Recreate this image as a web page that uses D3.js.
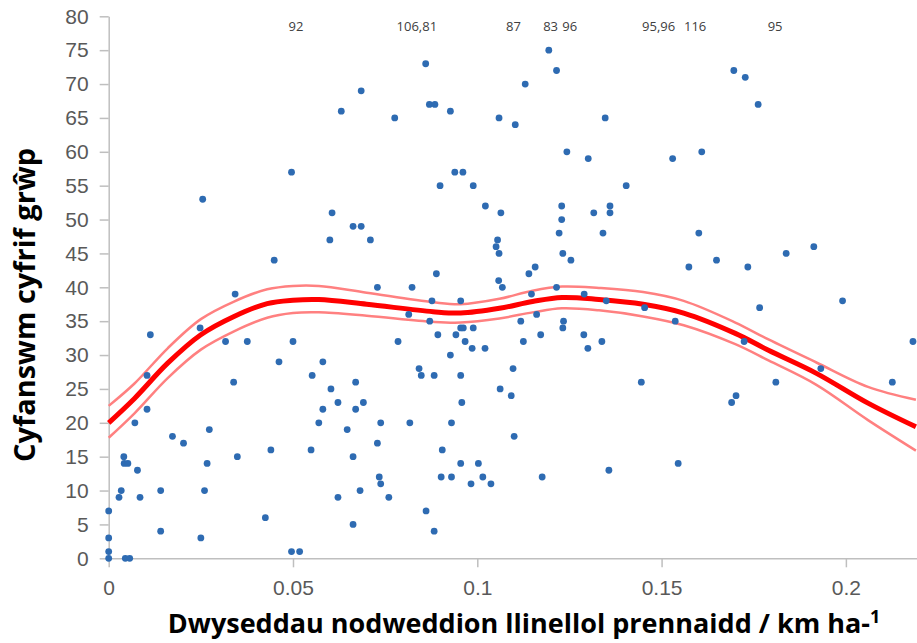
<!DOCTYPE html>
<html>
<head>
<meta charset="utf-8">
<script src="https://cdn.jsdelivr.net/npm/d3@7/dist/d3.min.js"></script>
<style>
  body { margin: 0; background: #fff; }
  svg { display: block; font-family: "Open Sans", sans-serif; }
</style>
</head>
<body>
<svg id="chart" width="917" height="643"></svg>
<script>
// scatter: linear feature density (km/ha) vs total group count
const densityX = [
  0.000, 0.000, 0.000, 0.000, 0.0045, 0.0057, 0.0041, 0.0042, 0.0052, 0.0078,
  0.0034, 0.0028, 0.0085, 0.0071, 0.0104, 0.0104, 0.0113, 0.0141, 0.0141, 0.0173,
  0.0203, 0.0248, 0.0255, 0.025, 0.026, 0.0267, 0.0273, 0.0317, 0.0339, 0.0343,
  0.0349, 0.0376, 0.0425, 0.044, 0.0449, 0.0462, 0.0496, 0.050, 0.0496, 0.0518,
  0.0549, 0.0552, 0.057, 0.0581, 0.0581, 0.060, 0.0603, 0.0606, 0.0622, 0.0622,
  0.0631, 0.0647, 0.0663, 0.0663, 0.0663, 0.067, 0.067, 0.0682, 0.0685, 0.0685,
  0.0691, 0.071, 0.0729, 0.0729, 0.0734, 0.0738, 0.0738, 0.076, 0.0776, 0.0785,
  0.0814, 0.0817, 0.0823, 0.0842, 0.0848, 0.086, 0.0861, 0.087, 0.0871, 0.0877,
  0.0883, 0.0883, 0.0885, 0.0889, 0.0893, 0.0899, 0.0902, 0.0905, 0.0927, 0.0927,
  0.093, 0.093, 0.0939, 0.0942, 0.0955, 0.0955, 0.0955, 0.0955, 0.0958, 0.0961,
  0.0962, 0.0967, 0.0983, 0.0986, 0.0989, 0.0989, 0.1003, 0.1015, 0.1021, 0.1022,
  0.1037, 0.1051, 0.1055, 0.1058, 0.1059, 0.1059, 0.1062, 0.1064, 0.1068, 0.1092,
  0.1097, 0.110, 0.1103, 0.1118, 0.1125, 0.113, 0.114, 0.1147, 0.1157, 0.1161,
  0.1172, 0.1176, 0.1194, 0.1215, 0.1215, 0.1222, 0.1229, 0.1229, 0.1232, 0.1232,
  0.1234, 0.1243, 0.1254, 0.1289, 0.129, 0.130, 0.1301, 0.1316, 0.1338, 0.1341,
  0.1347, 0.135, 0.1357, 0.136, 0.136, 0.1404, 0.1445, 0.1454, 0.153, 0.1537,
  0.1545, 0.1574, 0.1601, 0.1609, 0.1649, 0.169, 0.1696, 0.1702, 0.1724, 0.1727,
  0.1734, 0.1762, 0.1766, 0.181, 0.1838, 0.1913, 0.1932, 0.1991, 0.2126, 0.2182
];
const groupTotal = [
  7, 3, 1, 0, 0, 0, 15, 14, 14, 13,
  10, 9, 9, 20, 22, 27, 33, 10, 4, 18,
  17, 34, 53, 3, 10, 14, 19, 32, 26, 39,
  15, 32, 6, 16, 44, 29, 57, 32, 1, 1,
  16, 27, 20, 22, 29, 47, 25, 51, 23, 9,
  66, 19, 49, 15, 5, 26, 22, 10, 69, 49,
  23, 47, 40, 17, 12, 20, 11, 9, 65, 32,
  36, 20, 40, 28, 27, 73, 7, 67, 35, 38,
  27, 4, 67, 42, 33, 55, 12, 16, 66, 30,
  20, 12, 57, 33, 38, 34, 27, 14, 23, 57,
  34, 32, 11, 31, 55, 34, 14, 12, 31, 52,
  11, 46, 47, 41, 65, 45, 25, 51, 40, 24,
  28, 18, 64, 35, 32, 70, 42, 39, 43, 36,
  33, 12, 75, 72, 40, 48, 52, 50, 45, 34,
  35, 60, 44, 33, 39, 31, 59, 51, 32, 48,
  65, 38, 13, 52, 51, 55, 26, 37, 59, 35,
  14, 43, 48, 60, 44, 23, 72, 24, 32, 71,
  43, 67, 37, 26, 45, 46, 28, 38, 26, 32
];

// off-scale values written along the top of the plot
const outlierX = [0.0508, 0.0836, 0.1098, 0.1199, 0.1251, 0.1492, 0.1591, 0.1808];
const outlierLabels = ["92", "106,81", "87", "83", "96", "95,96", "116", "95"];

// smoothed fit with its confidence band
const fitX  = [0, 0.007, 0.016, 0.025, 0.034, 0.043, 0.05, 0.057, 0.07, 0.088, 0.0955,
               0.106, 0.115, 0.123, 0.133, 0.145, 0.156, 0.17, 0.179, 0.192, 0.206, 0.219];
const fitY  = [20.0, 23.6, 28.8, 33.0, 35.7, 37.6, 38.1, 38.2, 37.5, 36.4, 36.2,
               36.9, 37.9, 38.5, 38.2, 37.5, 36.2, 33.2, 30.7, 27.3, 22.9, 19.4];
const fitHi = [22.5, 25.8, 31.0, 35.3, 37.9, 39.7, 40.2, 40.2, 39.2, 37.8, 37.5,
               38.3, 39.5, 40.1, 39.9, 39.3, 38.0, 34.8, 32.3, 28.9, 25.3, 23.4];
const fitLo = [17.8, 21.4, 26.6, 30.8, 33.5, 35.5, 36.2, 36.3, 35.8, 34.9, 34.8,
               35.4, 36.3, 36.9, 36.6, 35.7, 34.4, 31.6, 29.2, 25.6, 20.4, 15.9];

const xTicks = [0, 0.05, 0.1, 0.15, 0.2];
const xTickLabels = ["0", "0.05", "0.1", "0.15", "0.2"];
const yTicks = d3.range(0, 81, 5);

const svg = d3.select("#chart");

const x = d3.scaleLinear().domain([0, 0.22]).range([108.7, 919.6]);
const y = d3.scaleLinear().domain([0, 80]).range([558.3, 16.3]);

// axes
const xAxis = svg.append("g")
  .attr("transform", `translate(0,${y(0)})`)
  .call(d3.axisBottom(x).tickValues(xTicks).tickSize(9).tickSizeOuter(0)
    .tickPadding(13).tickFormat((d, i) => xTickLabels[i]));

const yAxis = svg.append("g")
  .attr("transform", `translate(${x(0)},0)`)
  .call(d3.axisLeft(y).tickValues(yTicks).tickSize(9).tickSizeOuter(0).tickPadding(11));

[xAxis, yAxis].forEach(a => {
  a.select(".domain").attr("stroke", "#bfbfbf").attr("stroke-width", 1.5);
  a.selectAll(".tick line").attr("stroke", "#bfbfbf").attr("stroke-width", 1.5);
  a.selectAll(".tick text").attr("fill", "#595959").style("font-size", "21px");
});

// fit line and band
const line = (vals) => d3.line()
  .x((d, i) => x(fitX[i]))
  .y(d => y(d))
  .curve(d3.curveCatmullRom)(vals);

svg.append("path").attr("d", line(fitHi))
  .attr("fill", "none").attr("stroke", "#ff8080").attr("stroke-width", 2.5);
svg.append("path").attr("d", line(fitLo))
  .attr("fill", "none").attr("stroke", "#ff8080").attr("stroke-width", 2.5);
svg.append("path").attr("d", line(fitY))
  .attr("fill", "none").attr("stroke", "#ff0000").attr("stroke-width", 5);

// points
svg.append("g")
  .selectAll("circle")
  .data(densityX)
  .enter().append("circle")
  .attr("cx", d => x(d))
  .attr("cy", (d, i) => y(groupTotal[i]))
  .attr("r", 3.4)
  .attr("fill", "#2e6bb2");

// outlier labels
svg.append("g")
  .selectAll("text")
  .data(outlierX)
  .enter().append("text")
  .attr("x", d => x(d))
  .attr("y", 31)
  .attr("text-anchor", "middle")
  .style("font-size", "13px")
  .attr("fill", "#404040")
  .text((d, i) => outlierLabels[i]);

// axis titles
const xTitle = svg.append("text")
  .attr("x", 524)
  .attr("y", 633)
  .attr("text-anchor", "middle")
  .style("font-size", "27px")
  .style("font-weight", "bold")
  .attr("fill", "#000");
xTitle.append("tspan").text("Dwyseddau nodweddion llinellol prennaidd / km ha-");
xTitle.append("tspan").attr("dy", -10).style("font-size", "18px").text("1");

svg.append("text")
  .attr("transform", "translate(35,305) rotate(-90)")
  .attr("text-anchor", "middle")
  .style("font-size", "29px")
  .style("font-weight", "bold")
  .attr("fill", "#000")
  .text("Cyfanswm cyfrif grŵp");
</script>
</body>
</html>
